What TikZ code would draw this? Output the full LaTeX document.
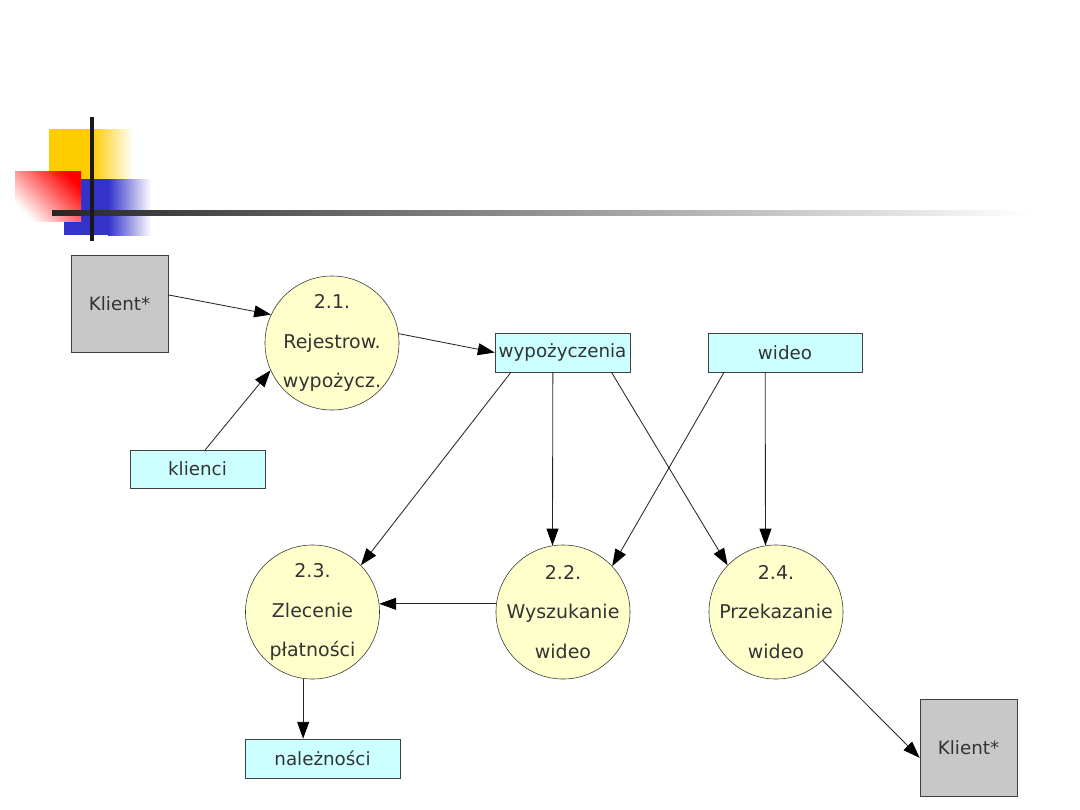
\documentclass[tikz,border=0pt]{standalone}
\usepackage{fontspec}
\setmainfont{DejaVu Sans}
\usetikzlibrary{arrows.meta,positioning}
\definecolor{procfill}{RGB}{255,255,204}
\definecolor{storefill}{RGB}{204,255,255}
\definecolor{extfill}{RGB}{200,200,200}
\definecolor{inkgray}{RGB}{51,51,51}
\definecolor{logoyellow}{RGB}{255,204,0}
\definecolor{logored}{RGB}{255,0,0}
\definecolor{logoblue}{RGB}{51,51,204}

\begin{document}
\begin{tikzpicture}[
    x=0.025cm, y=-0.025cm,
    >={Triangle[length=12pt,width=8.5pt,color=black]},
    every node/.style={font=\fontsize{13}{28}\selectfont, text=inkgray},
    process/.style={
        circle,
        draw=black!80,
        fill=procfill,
        minimum size=3.35cm,
        inner sep=0pt
    },
    proctext/.style={align=center, font=\fontsize{13.5}{28}\selectfont},
    store/.style={
        rectangle,
        draw=black!75,
        fill=storefill,
        minimum height=0.975cm,
        inner sep=0pt
    },
    external/.style={
        rectangle,
        draw=black!75,
        fill=extfill,
        minimum size=2.425cm,
        inner sep=0pt
    },
    flow/.style={->, draw=black!85, line width=0.6pt}
]
\useasboundingbox (0,0) rectangle (1080,810);

% logo
\fill[logoyellow] (49,129) rectangle (92,179);
\shade[left color=logoyellow, right color=white] (92,129) rectangle (133,179);
\fill[logoblue] (64,179) rectangle (108,235);
\shade[left color=logoblue, right color=white] (108,179) rectangle (151,235);
\shade[left color=white, right color=logored, shading angle=135] (15,171) rectangle (81,221);
\shade[left color=black!85, right color=white] (52,210) rectangle (1030,215);
\fill[black!90] (90,117) rectangle (94,241);

% nodes
\node[external] (klientA) at (119.5,303.5) {Klient*};
\node[process, label={[proctext]center:2.1.\\Rejestrow.\\wypożycz.}] (reg) at (332,343) {};
\node[store, minimum width=3.375cm] (wyp) at (562.5,352.5) {wypożyczenia};
\node[store, minimum width=3.85cm] (wideo) at (785,352.5) {wideo};
\node[store, minimum width=3.375cm, minimum height=0.95cm] (klienci) at (197.5,469) {klienci};
\node[process, label={[proctext]center:2.3.\\Zlecenie\\płatności}] (zlec) at (312.5,612) {};
\node[process, label={[proctext]center:2.2.\\Wyszukanie\\wideo}] (szuk) at (563,612) {};
\node[process, label={[proctext]center:2.4.\\Przekazanie\\wideo}] (przek) at (776,612) {};
\node[store, minimum width=3.875cm] (nal) at (322.5,758.5) {należności};
\node[external] (klientB) at (968.5,747.5) {Klient*};

% flows
\draw[flow] (klientA.10) -- (reg.155);
\draw[flow] (klienci.68) -- (reg.204);
\draw[flow] (reg.8) -- (wyp.west);
\draw[flow] (wyp.201.5) -- (zlec.44);
\draw[flow] (wyp.244) -- (szuk.99);
\draw[flow] (wyp.338.5) -- (przek.136);
\draw[flow] (wideo.198.6) -- (szuk.43);
\draw[flow] (wideo.225.7) -- (przek.99);
\draw[flow] (szuk.173) -- (zlec.7);
\draw[flow] (zlec.262) -- (zlec.262 |- nal.north);
\draw[flow] (przek.314) -- (klientB.192);
\end{tikzpicture}
\end{document}
